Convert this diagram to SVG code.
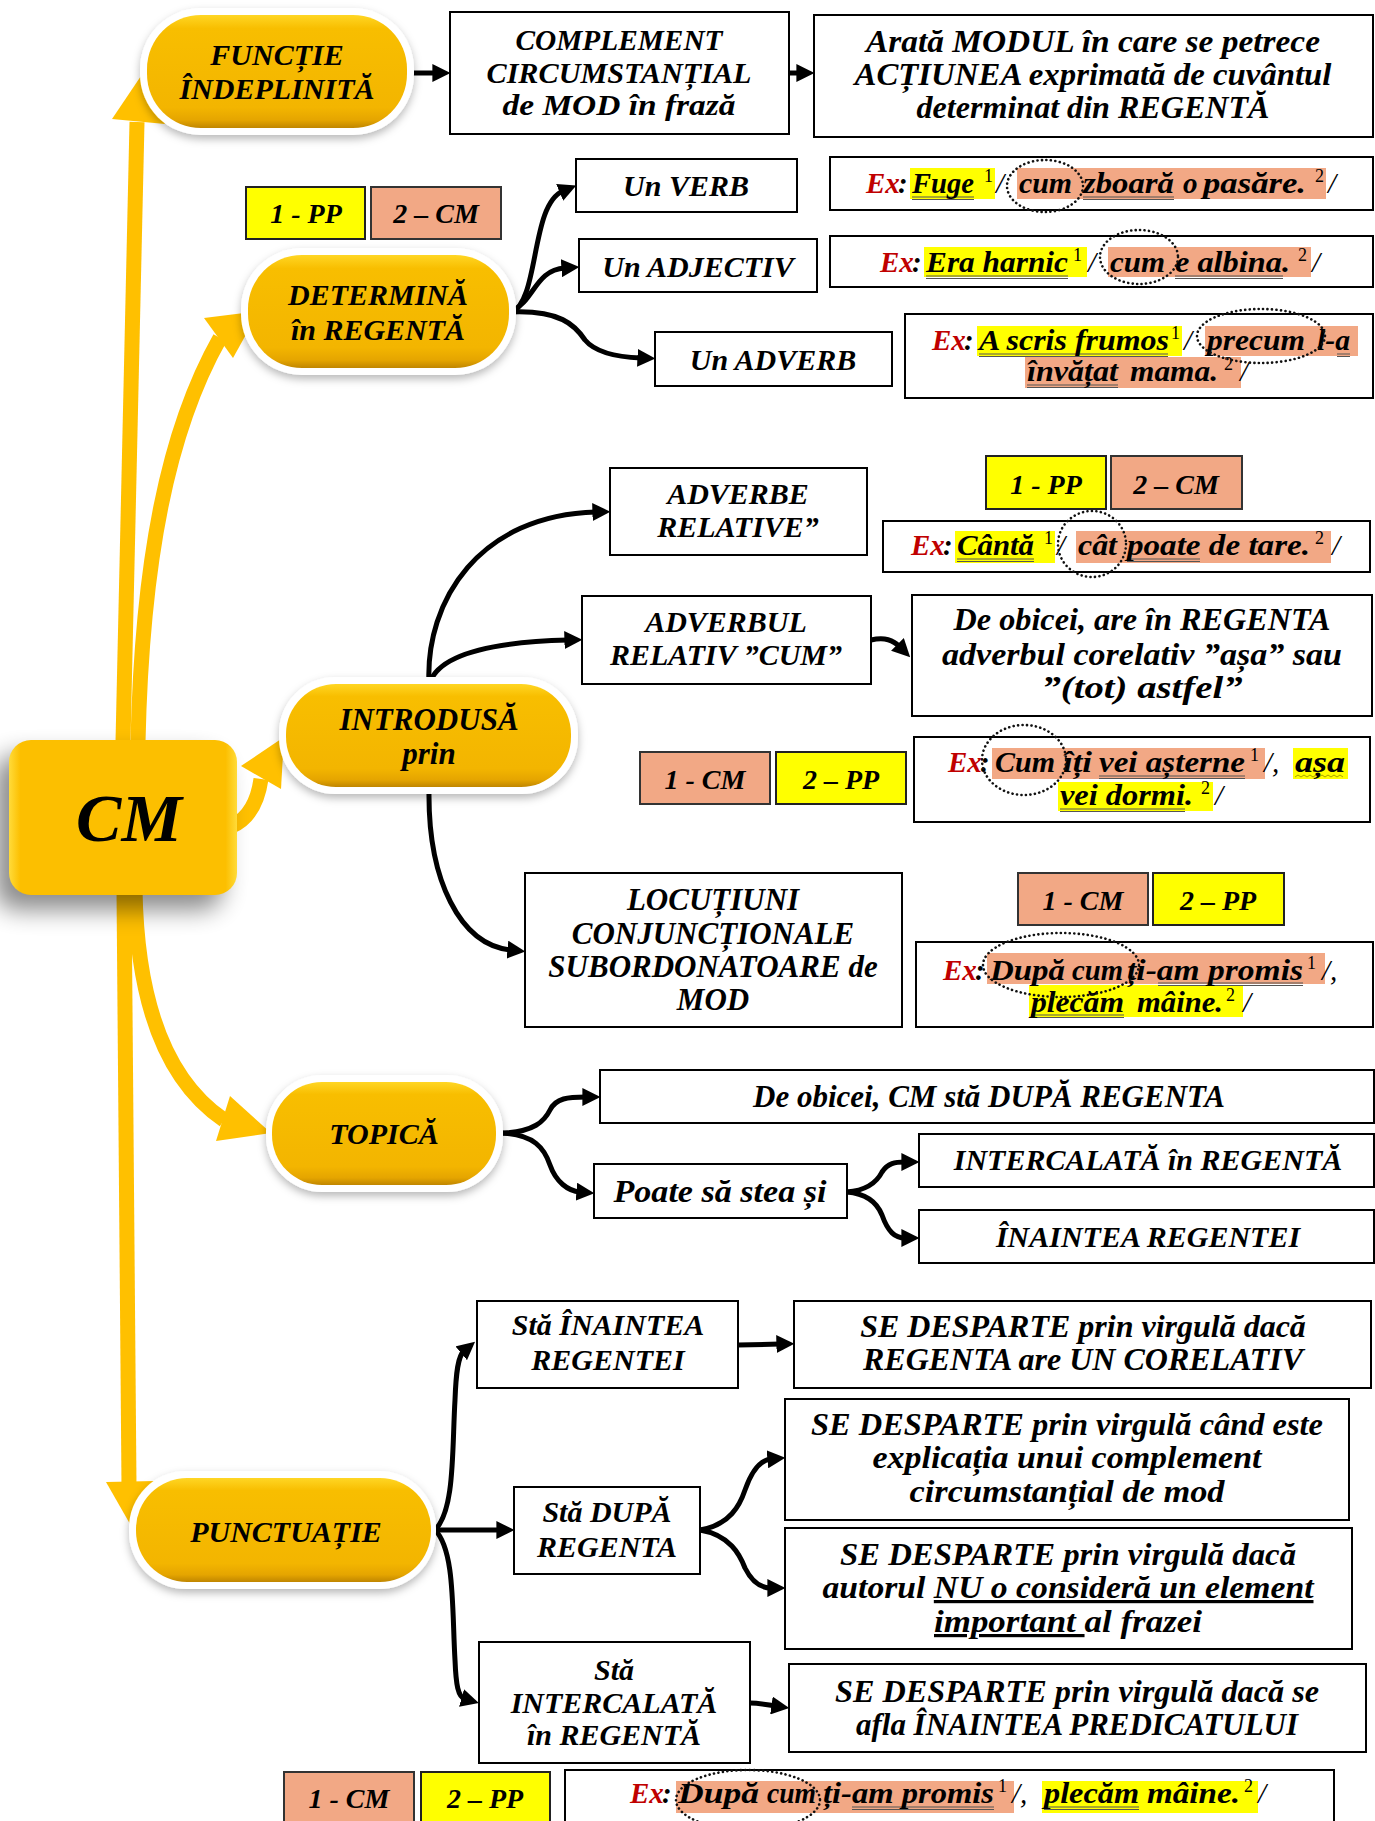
<svg xmlns="http://www.w3.org/2000/svg" width="1375" height="1821" viewBox="0 0 1375 1821">
<defs>
<style>
.t{font-family:'Liberation Serif','Times New Roman',serif;font-weight:bold;font-style:italic;fill:#000}
.m{text-anchor:middle}
.box{fill:#fff;stroke:#000;stroke-width:2}
.ly{fill:#FFFF00;stroke:#222;stroke-width:2}
.ls{fill:#F2A885;stroke:#333;stroke-width:2}
.hy{fill:#FFFF00}
.hs{fill:#F2A885}
.ex{font-size:29px}
.sup{font-family:'Liberation Serif','Times New Roman',serif;font-size:18px;fill:#000}
.sl{font-family:'Liberation Serif','Times New Roman',serif;font-size:29px;font-style:italic;fill:#000}
.red{fill:#C00000}
.ul{stroke:#555;stroke-width:1.2;fill:none}
.dot{fill:none;stroke:#111;stroke-width:2.6;stroke-dasharray:0.1 4.4;stroke-linecap:round}
.conn{fill:none;stroke:#000;stroke-width:5;marker-end:url(#ah)}
.yc{fill:none;stroke:#FFC000;stroke-width:15}
.ya{fill:#FFC000}
.halo{fill:#fff;filter:url(#hs)}
.pill{fill:url(#gold)}
</style>
<linearGradient id="gold" x1="0" y1="0" x2="0" y2="1">
<stop offset="0" stop-color="#FFD624"/>
<stop offset="0.12" stop-color="#F8BE00"/>
<stop offset="0.82" stop-color="#F3B500"/>
<stop offset="0.93" stop-color="#E5A500"/>
<stop offset="1" stop-color="#C08600"/>
</linearGradient>
<linearGradient id="cmg" x1="0" y1="0" x2="1" y2="0">
<stop offset="0" stop-color="#FFDB3A"/>
<stop offset="0.05" stop-color="#FCBF00"/>
<stop offset="0.95" stop-color="#FCBF00"/>
<stop offset="1" stop-color="#FFDB3A"/>
</linearGradient>
<filter id="hs" x="-10%" y="-20%" width="120%" height="150%">
<feDropShadow dx="0" dy="4" stdDeviation="4" flood-color="#000" flood-opacity="0.28"/>
</filter>
<filter id="cmsh" x="-50%" y="-50%" width="200%" height="200%">
<feGaussianBlur stdDeviation="12"/>
</filter>
<marker id="ah" viewBox="0 0 10 10" refX="2" refY="5" markerWidth="3.6" markerHeight="3.6" orient="auto">
<path d="M0,0 L10,5 L0,10 z" fill="#000"/>
</marker>
</defs>
<rect x="0" y="0" width="1375" height="1821" fill="#fff"/>

<g id="connectors">
<path class="yc" d="M123 742 L137 122"/>
<polygon class="ya" points="112,119 145,70 165,124"/>
<path class="yc" d="M138 742 C142 560 168 430 220 338"/>
<polygon class="ya" points="204,318 259,311 233,358"/>
<path class="yc" d="M232 826 C250 818 258 800 261 779"/>
<polygon class="ya" points="241,766 284,737 281,789"/>
<path class="yc" d="M135 890 C137 1000 165 1080 224 1120"/>
<polygon class="ya" points="216,1141 271,1133 230,1096"/>
<path class="yc" d="M124 890 L129 1485"/>
<polygon class="ya" points="106,1482 134,1531 155,1481"/>
<path class="conn" d="M413 73 L436 73"/>
<path class="conn" d="M789 73 L800 73"/>
<path class="conn" d="M511 313 C540 300 530 205 563 191"/>
<path class="conn" d="M511 312 C535 300 535 270 565 268"/>
<path class="conn" d="M511 312 C560 310 575 325 585 340 C595 352 615 357 641 358"/>
<path class="conn" d="M429 684 C425 600 480 515 596 512"/>
<path class="conn" d="M430 682 C440 655 490 642 568 640"/>
<path class="conn" d="M429 791 C428 880 460 945 511 950"/>
<path class="conn" d="M871 640 C885 637 893 640 900 647"/>
<path class="conn" d="M498 1133 C535 1133 545 1120 550 1110 C556 1098 568 1097 586 1097"/>
<path class="conn" d="M498 1133 C535 1133 545 1150 550 1165 C556 1182 568 1191 580 1192"/>
<path class="conn" d="M847 1192 C870 1190 878 1180 882 1172 C888 1163 895 1162 905 1162"/>
<path class="conn" d="M847 1192 C870 1194 878 1205 882 1215 C888 1232 895 1238 905 1238"/>
<path class="conn" d="M435 1530 C455 1510 452 1450 455 1400 C456 1372 458 1356 464 1351"/>
<path class="conn" d="M435 1530 L500 1530"/>
<path class="conn" d="M435 1530 C455 1550 452 1610 455 1660 C456 1685 458 1697 465 1699"/>
<path class="conn" d="M738 1345 L780 1344"/>
<path class="conn" d="M700 1530 C730 1525 740 1505 745 1490 C752 1470 760 1460 771 1459"/>
<path class="conn" d="M700 1530 C730 1535 740 1555 745 1568 C752 1582 760 1588 771 1588"/>
<path class="conn" d="M750 1703 C760 1703 768 1705 775 1706"/>
</g>

<g id="n-cm">
<rect x="-5" y="755" width="228" height="155" rx="22" fill="#000" opacity="0.45" filter="url(#cmsh)"/>
<rect x="9" y="740" width="228" height="155" rx="22" fill="url(#cmg)"/>
<text class="t m" x="129" y="841" font-size="68">CM</text>
</g>

<g id="n-functie">
<rect class="halo" x="140" y="8" width="274" height="127" rx="61"/>
<rect class="pill" x="147" y="15" width="260" height="113" rx="54"/>
<text class="t m" x="277" y="65" font-size="30">FUNCȚIE</text>
<text class="t m" x="277" y="99" font-size="30">ÎNDEPLINITĂ</text>
</g>

<g id="n-complement">
<rect class="box" x="450" y="12" width="339" height="122"/>
<text class="t m" x="619" y="50" font-size="29" textLength="207" lengthAdjust="spacingAndGlyphs">COMPLEMENT</text>
<text class="t m" x="619" y="83" font-size="29" textLength="265" lengthAdjust="spacingAndGlyphs">CIRCUMSTANȚIAL</text>
<text class="t m" x="619" y="115" font-size="29" textLength="233" lengthAdjust="spacingAndGlyphs">de MOD în frază</text>
</g>

<g id="n-arata">
<rect class="box" x="814" y="15" width="559" height="122"/>
<text class="t m" x="1093" y="52" font-size="31" textLength="454" lengthAdjust="spacingAndGlyphs">Arată MODUL în care se petrece</text>
<text class="t m" x="1093" y="85" font-size="31" textLength="477" lengthAdjust="spacingAndGlyphs">ACȚIUNEA exprimată de cuvântul</text>
<text class="t m" x="1093" y="118" font-size="31" textLength="353" lengthAdjust="spacingAndGlyphs">determinat din REGENTĂ</text>
</g>

<g id="n-legend1">
<rect class="ly" x="246" y="187" width="119" height="52"/>
<text class="t m" x="306" y="223" font-size="28">1 - PP</text>
<rect class="ls" x="371" y="187" width="130" height="52"/>
<text class="t m" x="436" y="223" font-size="28">2 – CM</text>
</g>

<g id="n-determina">
<rect class="halo" x="241" y="248" width="275" height="127" rx="61"/>
<rect class="pill" x="248" y="255" width="261" height="113" rx="54"/>
<text class="t m" x="378" y="305" font-size="30">DETERMINĂ</text>
<text class="t m" x="378" y="340" font-size="30">în REGENTĂ</text>
</g>

<g id="n-verb">
<rect class="box" x="576" y="159" width="221" height="53"/>
<text class="t m" x="686" y="196" font-size="30">Un VERB</text>
</g>
<g id="n-adjectiv">
<rect class="box" x="579" y="239" width="238" height="53"/>
<text class="t m" x="698" y="277" font-size="30">Un ADJECTIV</text>
</g>
<g id="n-adverb">
<rect class="box" x="655" y="332" width="237" height="54"/>
<text class="t m" x="773" y="370" font-size="30">Un ADVERB</text>
</g>

<g id="n-ex1">
<rect class="box" x="830" y="157" width="543" height="53"/>
<rect class="hy" x="910" y="168" width="85" height="31"/>
<rect class="hs" x="1017" y="168" width="309" height="31"/>
<path class="ul" d="M912 197 H974 M912 199.5 H974 M1083 197 H1174 M1083 199.5 H1174"/>
<text class="t ex red" x="866" y="193">Ex</text>
<text class="t ex" x="898" y="193">:</text>
<text class="t ex" x="912" y="193" textLength="62" lengthAdjust="spacingAndGlyphs">Fuge</text>
<text class="sup" x="984" y="182">1</text>
<text class="sl" x="996" y="193">/</text>
<text class="t ex" x="1019" y="193" textLength="53" lengthAdjust="spacingAndGlyphs">cum</text>
<text class="t ex" x="1083" y="193" textLength="91" lengthAdjust="spacingAndGlyphs">zboară</text>
<text class="t ex" x="1183" y="193">o</text>
<text class="t ex" x="1203" y="193" textLength="103" lengthAdjust="spacingAndGlyphs">pasăre.</text>
<text class="sup" x="1315" y="182">2</text>
<text class="sl" x="1328" y="193">/</text>
<ellipse class="dot" cx="1045" cy="186" rx="38" ry="26"/>
</g>

<g id="n-ex2">
<rect class="box" x="830" y="236" width="543" height="51"/>
<rect class="hy" x="924" y="247" width="163" height="30"/>
<rect class="hs" x="1108" y="247" width="203" height="30"/>
<path class="ul" d="M926 276 H1068 M926 278.5 H1068 M1175 276 H1283 M1175 278.5 H1283"/>
<text class="t ex red" x="880" y="272">Ex</text>
<text class="t ex" x="912" y="272">:</text>
<text class="t ex" x="926" y="272" textLength="142" lengthAdjust="spacingAndGlyphs">Era harnic</text>
<text class="sup" x="1073" y="261">1</text>
<text class="sl" x="1088" y="272">/</text>
<text class="t ex" x="1110" y="272" textLength="55" lengthAdjust="spacingAndGlyphs">cum</text>
<text class="t ex" x="1175" y="272" textLength="115" lengthAdjust="spacingAndGlyphs">e albina.</text>
<text class="sup" x="1298" y="261">2</text>
<text class="sl" x="1312" y="272">/</text>
<ellipse class="dot" cx="1139" cy="257" rx="39" ry="27"/>
</g>

<g id="n-ex3">
<rect class="box" x="905" y="314" width="468" height="84"/>
<rect class="hy" x="977" y="326" width="205" height="30"/>
<rect class="hs" x="1205" y="326" width="153" height="30"/>
<rect class="hs" x="1025" y="357" width="216" height="31"/>
<path class="ul" d="M979 354 H1168 M979 356.5 H1168 M1337 354 H1350 M1337 356.5 H1350 M1027 385 H1118 M1027 387.5 H1118"/>
<text class="t ex red" x="932" y="350">Ex</text>
<text class="t ex" x="964" y="350">:</text>
<text class="t ex" x="979" y="350" textLength="190" lengthAdjust="spacingAndGlyphs">A scris frumos</text>
<text class="sup" x="1171" y="339">1</text>
<text class="sl" x="1184" y="350">/</text>
<text class="t ex" x="1207" y="350" textLength="98" lengthAdjust="spacingAndGlyphs">precum</text>
<text class="t ex" x="1317" y="350" textLength="33" lengthAdjust="spacingAndGlyphs">l-a</text>
<text class="t ex" x="1027" y="381" textLength="91" lengthAdjust="spacingAndGlyphs">învățat</text>
<text class="t ex" x="1130" y="381" textLength="88" lengthAdjust="spacingAndGlyphs">mama.</text>
<text class="sup" x="1224" y="370">2</text>
<text class="sl" x="1240" y="381">/</text>
<ellipse class="dot" cx="1261" cy="336" rx="64" ry="27"/>
</g>

<g id="n-introdusa">
<rect class="halo" x="279" y="677" width="299" height="117" rx="56"/>
<rect class="pill" x="286" y="684" width="285" height="103" rx="50"/>
<text class="t m" x="429" y="730" font-size="31">INTRODUSĂ</text>
<text class="t m" x="429" y="764" font-size="31">prin</text>
</g>

<g id="n-adverbe-relative">
<rect class="box" x="610" y="468" width="257" height="87"/>
<text class="t m" x="738" y="504" font-size="30">ADVERBE</text>
<text class="t m" x="738" y="537" font-size="30">RELATIVE”</text>
</g>

<g id="n-legend2">
<rect class="ly" x="986" y="456" width="120" height="53"/>
<text class="t m" x="1046" y="494" font-size="28">1 - PP</text>
<rect class="ls" x="1111" y="456" width="131" height="53"/>
<text class="t m" x="1176" y="494" font-size="28">2 – CM</text>
</g>

<g id="n-ex-canta">
<rect class="box" x="883" y="521" width="487" height="51"/>
<rect class="hy" x="955" y="531" width="100" height="32"/>
<rect class="hs" x="1076" y="531" width="255" height="32"/>
<path class="ul" d="M957 559 H1034 M957 561.5 H1034 M1127 559 H1200 M1127 561.5 H1200"/>
<text class="t ex red" x="911" y="555">Ex</text>
<text class="t ex" x="943" y="555">:</text>
<text class="t ex" x="957" y="555" textLength="77" lengthAdjust="spacingAndGlyphs">Cântă</text>
<text class="sup" x="1044" y="544">1</text>
<text class="sl" x="1057" y="555">/</text>
<text class="t ex" x="1078" y="555" textLength="39" lengthAdjust="spacingAndGlyphs">cât</text>
<text class="t ex" x="1127" y="555" textLength="183" lengthAdjust="spacingAndGlyphs">poate de tare.</text>
<text class="sup" x="1315" y="544">2</text>
<text class="sl" x="1332" y="555">/</text>
<ellipse class="dot" cx="1092" cy="544" rx="34" ry="33"/>
</g>

<g id="n-adverbul-cum">
<rect class="box" x="582" y="596" width="289" height="88"/>
<text class="t m" x="726" y="632" font-size="30">ADVERBUL</text>
<text class="t m" x="726" y="665" font-size="30">RELATIV ”CUM”</text>
</g>

<g id="n-de-obicei-are">
<rect class="box" x="912" y="595" width="460" height="121"/>
<text class="t m" x="1142" y="630" font-size="31" textLength="377" lengthAdjust="spacingAndGlyphs">De obicei, are în REGENTA</text>
<text class="t m" x="1142" y="665" font-size="31" textLength="400" lengthAdjust="spacingAndGlyphs">adverbul corelativ ”așa” sau</text>
<text class="t m" x="1142" y="698" font-size="31" textLength="201" lengthAdjust="spacingAndGlyphs">”(tot) astfel”</text>
</g>

<g id="n-legend3">
<rect class="ls" x="640" y="752" width="130" height="52"/>
<text class="t m" x="705" y="789" font-size="28">1 - CM</text>
<rect class="ly" x="776" y="752" width="130" height="52"/>
<text class="t m" x="841" y="789" font-size="28">2 – PP</text>
</g>

<g id="n-ex-cum">
<rect class="box" x="914" y="737" width="456" height="85"/>
<rect class="hs" x="992" y="748" width="273" height="31"/>
<rect class="hy" x="1293" y="748" width="55" height="31"/>
<rect class="hy" x="1058" y="782" width="155" height="29"/>
<path class="ul" d="M1099 776 H1245 M1099 778.5 H1245 M1060 809 H1185 M1060 811.5 H1185"/>
<path d="M1295 777 l3 -2 l3 2 l3 -2 l3 2 l3 -2 l3 2 l3 -2 l3 2 l3 -2 l3 2 l3 -2 l3 2 l3 -2 l3 2 l3 -2 l3 2" fill="none" stroke="#A8A000" stroke-width="1"/>
<text class="t ex red" x="948" y="772">Ex</text>
<text class="t ex" x="980" y="772">:</text>
<text class="t ex" x="995" y="772" textLength="60" lengthAdjust="spacingAndGlyphs">Cum</text>
<text class="t ex" x="1063" y="772" textLength="29" lengthAdjust="spacingAndGlyphs">îți</text>
<text class="t ex" x="1099" y="772" textLength="146" lengthAdjust="spacingAndGlyphs">vei așterne</text>
<text class="sup" x="1250" y="761">1</text>
<text class="sl" x="1264" y="772">/,</text>
<text class="t ex" x="1295" y="772" textLength="50" lengthAdjust="spacingAndGlyphs">așa</text>
<text class="t ex" x="1060" y="805" textLength="133" lengthAdjust="spacingAndGlyphs">vei dormi.</text>
<text class="sup" x="1201" y="794">2</text>
<text class="sl" x="1215" y="805">/</text>
<ellipse class="dot" cx="1024" cy="760" rx="42" ry="35"/>
</g>

<g id="n-locutiuni">
<rect class="box" x="525" y="873" width="377" height="154"/>
<text class="t m" x="713" y="910" font-size="31">LOCUȚIUNI</text>
<text class="t m" x="713" y="944" font-size="31">CONJUNCȚIONALE</text>
<text class="t m" x="713" y="977" font-size="31">SUBORDONATOARE de</text>
<text class="t m" x="713" y="1010" font-size="31">MOD</text>
</g>

<g id="n-legend4">
<rect class="ls" x="1018" y="873" width="130" height="52"/>
<text class="t m" x="1083" y="910" font-size="28">1 - CM</text>
<rect class="ly" x="1153" y="873" width="131" height="52"/>
<text class="t m" x="1218" y="910" font-size="28">2 – PP</text>
</g>

<g id="n-ex-dupa">
<rect class="box" x="916" y="942" width="457" height="85"/>
<rect class="hs" x="987" y="953" width="338" height="31"/>
<rect class="hy" x="1029" y="985" width="214" height="32"/>
<path class="ul" d="M1158 983 H1303 M1158 985.5 H1303 M1031 1015 H1124 M1031 1017.5 H1124"/>
<text class="t ex red" x="943" y="980">Ex</text>
<text class="t ex" x="975" y="980">:</text>
<text class="t ex" x="990" y="980" textLength="75" lengthAdjust="spacingAndGlyphs">După</text>
<text class="t ex" x="1072" y="980" textLength="51" lengthAdjust="spacingAndGlyphs">cum</text>
<text class="t ex" x="1127" y="980" textLength="176" lengthAdjust="spacingAndGlyphs">ți-am promis</text>
<text class="sup" x="1307" y="969">1</text>
<text class="sl" x="1322" y="980">/,</text>
<text class="t ex" x="1031" y="1012" textLength="93" lengthAdjust="spacingAndGlyphs">plecăm</text>
<text class="t ex" x="1137" y="1012" textLength="86" lengthAdjust="spacingAndGlyphs">mâine.</text>
<text class="sup" x="1226" y="1001">2</text>
<text class="sl" x="1243" y="1012">/</text>
<ellipse class="dot" cx="1061" cy="965" rx="78" ry="32"/>
</g>

<g id="n-topica">
<rect class="halo" x="266" y="1075" width="237" height="117" rx="56"/>
<rect class="pill" x="272" y="1082" width="224" height="103" rx="50"/>
<text class="t m" x="384" y="1144" font-size="30">TOPICĂ</text>
</g>

<g id="n-de-obicei-cm">
<rect class="box" x="600" y="1070" width="774" height="53"/>
<text class="t m" x="989" y="1107" font-size="31">De obicei, CM stă DUPĂ REGENTA</text>
</g>
<g id="n-poate">
<rect class="box" x="594" y="1164" width="253" height="54"/>
<text class="t m" x="720" y="1202" font-size="31" textLength="213" lengthAdjust="spacingAndGlyphs">Poate să stea și</text>
</g>
<g id="n-intercalata">
<rect class="box" x="919" y="1134" width="455" height="53"/>
<text class="t m" x="1148" y="1170" font-size="30">INTERCALATĂ în REGENTĂ</text>
</g>
<g id="n-inaintea">
<rect class="box" x="919" y="1210" width="455" height="53"/>
<text class="t m" x="1148" y="1247" font-size="30">ÎNAINTEA REGENTEI</text>
</g>

<g id="n-punctuatie">
<rect class="halo" x="129" y="1471" width="307" height="118" rx="57"/>
<rect class="pill" x="136" y="1478" width="295" height="104" rx="51"/>
<text class="t m" x="286" y="1542" font-size="30">PUNCTUAȚIE</text>
</g>

<g id="n-sta-inaintea">
<rect class="box" x="477" y="1301" width="261" height="87"/>
<text class="t m" x="608" y="1335" font-size="30">Stă ÎNAINTEA</text>
<text class="t m" x="608" y="1370" font-size="30">REGENTEI</text>
</g>
<g id="n-se-desparte-1">
<rect class="box" x="794" y="1301" width="577" height="87"/>
<text class="t m" x="1083" y="1337" font-size="32">SE DESPARTE prin virgulă dacă</text>
<text class="t m" x="1083" y="1370" font-size="32">REGENTA are UN CORELATIV</text>
</g>
<g id="n-sta-dupa">
<rect class="box" x="514" y="1487" width="186" height="87"/>
<text class="t m" x="607" y="1522" font-size="30">Stă DUPĂ</text>
<text class="t m" x="607" y="1557" font-size="30">REGENTA</text>
</g>
<g id="n-se-desparte-2">
<rect class="box" x="785" y="1399" width="564" height="121"/>
<text class="t m" x="1067" y="1435" font-size="32" textLength="512" lengthAdjust="spacingAndGlyphs">SE DESPARTE prin virgulă când este</text>
<text class="t m" x="1067" y="1468" font-size="32" textLength="389" lengthAdjust="spacingAndGlyphs">explicația unui complement</text>
<text class="t m" x="1067" y="1502" font-size="32" textLength="315" lengthAdjust="spacingAndGlyphs">circumstanțial de mod</text>
</g>
<g id="n-se-desparte-3">
<rect class="box" x="785" y="1528" width="567" height="121"/>
<text class="t m" x="1068" y="1565" font-size="32" textLength="456" lengthAdjust="spacingAndGlyphs">SE DESPARTE prin virgulă dacă</text>
<text class="t m" x="1068" y="1598" font-size="32" textLength="491" lengthAdjust="spacingAndGlyphs">autorul <tspan text-decoration="underline">NU o consideră un element</tspan></text>
<text class="t m" x="1068" y="1632" font-size="32" textLength="268" lengthAdjust="spacingAndGlyphs"><tspan text-decoration="underline">important </tspan>al frazei</text>
</g>
<g id="n-sta-intercalata">
<rect class="box" x="479" y="1642" width="271" height="121"/>
<text class="t m" x="614" y="1680" font-size="30">Stă</text>
<text class="t m" x="614" y="1713" font-size="30">INTERCALATĂ</text>
<text class="t m" x="614" y="1745" font-size="30">în REGENTĂ</text>
</g>
<g id="n-se-desparte-4">
<rect class="box" x="789" y="1664" width="577" height="88"/>
<text class="t m" x="1077" y="1702" font-size="32" textLength="484" lengthAdjust="spacingAndGlyphs">SE DESPARTE prin virgulă dacă se</text>
<text class="t m" x="1077" y="1735" font-size="32" textLength="442" lengthAdjust="spacingAndGlyphs">afla ÎNAINTEA PREDICATULUI</text>
</g>

<g id="n-legend5">
<rect class="ls" x="284" y="1772" width="130" height="60"/>
<text class="t m" x="349" y="1808" font-size="28">1 - CM</text>
<rect class="ly" x="421" y="1772" width="129" height="60"/>
<text class="t m" x="485" y="1808" font-size="28">2 – PP</text>
</g>

<g id="n-ex-bottom">
<rect class="box" x="565" y="1770" width="769" height="60"/>
<rect class="hs" x="676" y="1781" width="338" height="32"/>
<rect class="hy" x="1042" y="1781" width="216" height="32"/>
<path class="ul" d="M852 1807 H994 M852 1809.5 H994 M1044 1807 H1139 M1044 1809.5 H1139"/>
<text class="t ex red" x="630" y="1803">Ex</text>
<text class="t ex" x="662" y="1803">:</text>
<text class="t ex" x="678" y="1803" textLength="81" lengthAdjust="spacingAndGlyphs">După</text>
<text class="t ex" x="767" y="1803" textLength="49" lengthAdjust="spacingAndGlyphs">cum</text>
<text class="t ex" x="823" y="1803" textLength="171" lengthAdjust="spacingAndGlyphs">ți-am promis</text>
<text class="sup" x="998" y="1792">1</text>
<text class="sl" x="1012" y="1803">/,</text>
<text class="t ex" x="1044" y="1803" textLength="95" lengthAdjust="spacingAndGlyphs">plecăm</text>
<text class="t ex" x="1147" y="1803" textLength="93" lengthAdjust="spacingAndGlyphs">mâine.</text>
<text class="sup" x="1244" y="1792">2</text>
<text class="sl" x="1258" y="1803">/</text>
<ellipse class="dot" cx="748" cy="1800" rx="72" ry="30"/>
</g>
</svg>
